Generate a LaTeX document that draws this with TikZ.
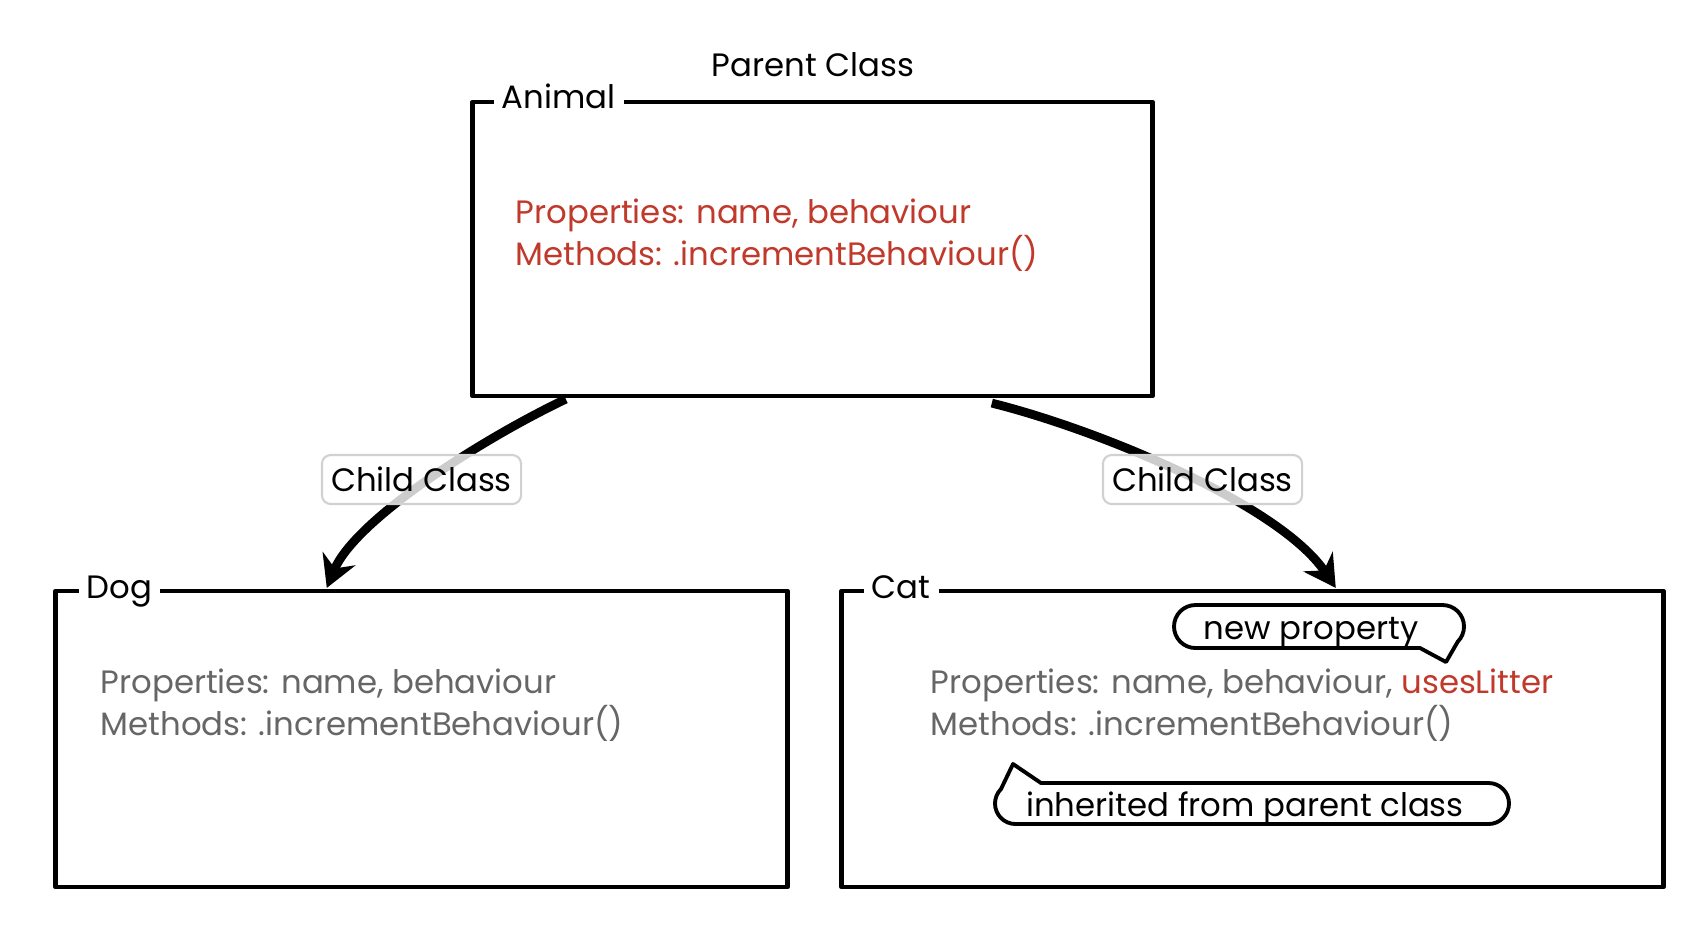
\documentclass[tikz,border=0pt]{standalone}
\usepackage{fontspec}
\setmainfont{Poppins}
\usetikzlibrary{arrows.meta,calc}
\definecolor{propred}{HTML}{C0392B}
\definecolor{inhgray}{HTML}{666666}
\begin{document}
\begin{tikzpicture}[x=0.01cm,y=-0.01cm,
  txt/.style={font=\fontsize{9.2}{11}\selectfont},
  classbox/.style={draw=black, line width=1.35pt, line join=round, inner sep=0pt, outer sep=0pt},
  boxlabel/.style={txt, fill=white, inner xsep=2.3pt, inner ysep=2pt, anchor=base west},
  bodytext/.style={txt, anchor=base west, inner sep=0pt},
  childlabel/.style={txt, draw=black!18, line width=0.6pt, rounded corners=2.5pt, fill=white, fill opacity=0.8, text opacity=1, minimum width=1.99cm, minimum height=0.49cm, inner sep=0pt},
  inherit/.style={-{Stealth[length=9pt,width=10pt,inset=3pt]}, line width=2.5pt},
  bubble/.style={draw, line width=1.1pt, line join=round}
]
\useasboundingbox (0,0) rectangle (1700,932);

% class boxes
\node[classbox, minimum width=6.79cm, minimum height=2.94cm] (animal) at (812.5,249) {};
\node[classbox, minimum width=7.31cm, minimum height=2.96cm] (dog) at (421.5,739) {};
\node[classbox, minimum width=8.21cm, minimum height=2.96cm] (cat) at (1252.5,739) {};

% box titles
\node[txt, anchor=base] (parent) at (813,76) {Parent Class};
\node[boxlabel] (animallbl) at (493,108) {Animal};
\node[boxlabel] (doglbl) at (78,598) {Dog};
\node[boxlabel] (catlbl) at (863,598) {Cat};

% contents
\node[bodytext, text=propred] (animalprop) at (515,223) {Properties: name, behaviour};
\node[bodytext, text=propred] (animalmeth) at (515,265) {Methods: .incrementBehaviour()};
\node[bodytext, text=inhgray] (dogprop) at (100,693) {Properties: name, behaviour};
\node[bodytext, text=inhgray] (dogmeth) at (100,735) {Methods: .incrementBehaviour()};
\node[bodytext, text=inhgray] (catprop) at (930,693) {Properties: name, behaviour, \textcolor{propred}{usesLitter}};
\node[bodytext, text=inhgray] (catmeth) at (930,735) {Methods: .incrementBehaviour()};

% inheritance arrows
\draw[inherit] ($(animal.south west)+(93,3)$) .. controls (480,440) and (355,520) .. ($(dog.north west)+(271,-3)$);
\draw[inherit] ($(animal.south west)+(519,7)$) .. controls (1100,430) and (1280,505) .. ($(cat.north west)+(494,-3)$);
\node[childlabel] (child1) at (421.5,479.5) {Child Class};
\node[childlabel] (child2) at (1202.5,479.5) {Child Class};

% callouts
\draw[bubble] (1195.5,605) -- (1442.5,605) arc[start angle=-90, end angle=45, radius=21.5]
  -- (1446,662) -- (1420,648) -- (1195.5,648) arc[start angle=90, end angle=270, radius=21.5] -- cycle;
\node[txt, anchor=base] (newprop) at (1311,639) {new property};

\draw[bubble] (1041,783) -- (1488.5,783) arc[start angle=-90, end angle=90, radius=20.5]
  -- (1015.5,824) arc[start angle=90, end angle=225, radius=20.5] -- (1013,764) -- cycle;
\node[txt, anchor=base] (inhnote) at (1245,816) {inherited from parent class};
\end{tikzpicture}
\end{document}
